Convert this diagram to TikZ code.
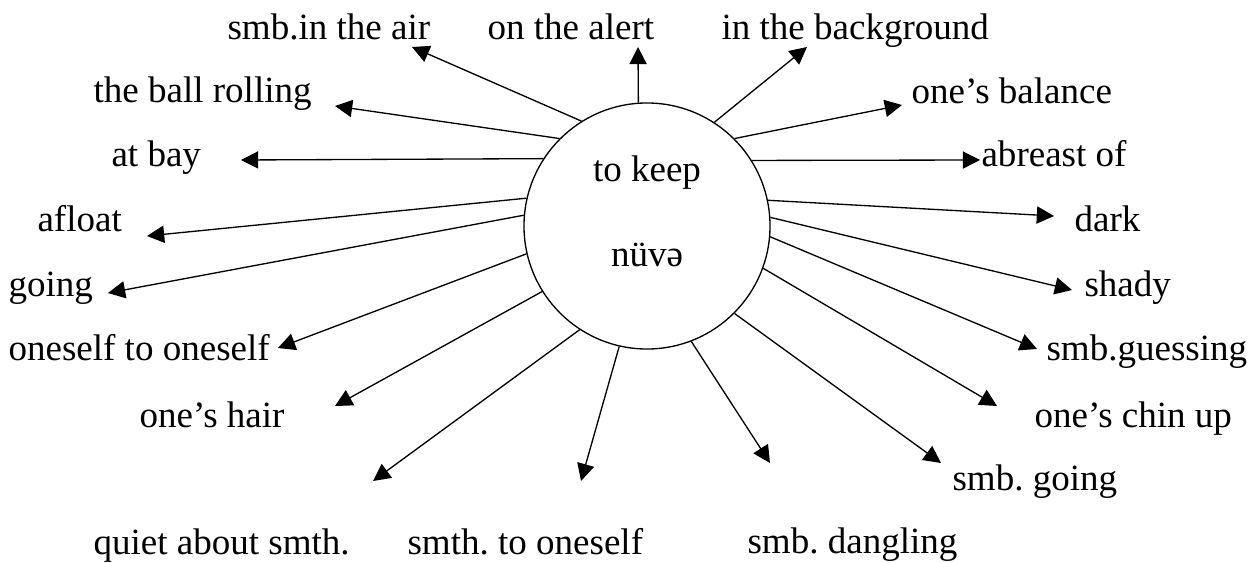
\documentclass[tikz,border=0pt]{standalone}
\usepackage{fontspec}
\setmainfont{Liberation Serif}
\usetikzlibrary{arrows.meta,positioning}
\frenchspacing

\begin{document}
\begin{tikzpicture}[x=0.378pt,y=-0.378pt,
    font=\fontsize{14}{16}\selectfont,
    word/.style={anchor=base west, inner sep=0pt},
    link/.style={line width=0.5pt, -{Triangle[length=6.5pt,width=6.5pt]}}]
    \useasboundingbox (0,0) rectangle (1251,563);

    % centre
    \node (keep) [draw, circle, line width=0.5pt, minimum size=93pt, inner sep=0pt] at (647,226) {};
    \node (keepen) [anchor=base, inner sep=0pt] at (647,182) {to keep};
    \node (keepaz) [anchor=base, inner sep=0pt] at (647,267) {nüvə};

    % phrases
    \node (air) [word] at (227,40) {smb.in the air};
    \node (alert) [word] at (487,40) {on the alert};
    \node (backgr) [word] at (721,40) {in the background};
    \node (ball) [word] at (93,103) {the ball rolling};
    \node (balance) [word] at (911,104) {one’s balance};
    \node (bay) [word] at (111,167) {at bay};
    \node (abreast) [word] at (981,167) {abreast of};
    \node (afloat) [word] at (37,232) {afloat};
    \node (dark) [word] at (1074,232) {dark};
    \node (going) [word] at (8,297) {going};
    \node (shady) [word] at (1084,297) {shady};
    \node (oneself) [word] at (8,361) {oneself to oneself};
    \node (guess) [word] at (1046,361) {smb.guessing};
    \node (hair) [word] at (139,427) {one’s hair};
    \node (chin) [word] at (1034,427) {one’s chin up};
    \node (smbgo) [word] at (952,491) {smb. going};
    \node (quiet) [word] at (93,554) {quiet about smth.};
    \node (smth) [word] at (407,554) {smth. to oneself};
    \node (dangl) [word] at (747,553) {smb. dangling};

    % arrow tips
    \coordinate (tair) at (412,47);
    \coordinate (talert) at (638,47);
    \coordinate (tbackgr) at (807,47);
    \coordinate (tball) at (335,106);
    \coordinate (tbalance) at (902,105);
    \coordinate (tbay) at (241,160);
    \coordinate (tabreast) at (980,160);
    \coordinate (tafloat) at (147,236);
    \coordinate (tdark) at (1054,216);
    \coordinate (tgoing) at (108,293);
    \coordinate (tshady) at (1072,290);
    \coordinate (toneself) at (278,348);
    \coordinate (tguess) at (1037,349);
    \coordinate (tchin) at (997,406);
    \coordinate (thair) at (335,406);
    \coordinate (tsmbgo) at (941,463);
    \coordinate (tquiet) at (373,481);
    \coordinate (tsmth) at (581,481);
    \coordinate (tdangl) at (770,463);

    \draw[link] (keep.122.8) -- (tair);
    \draw[link] (keep.94) -- (talert);
    \draw[link] (keep.57.2) -- (tbackgr);
    \draw[link] (keep.135) -- (tball);
    \draw[link] (keep.45) -- (tbalance);
    \draw[link] (keep.147.8) -- (tbay);
    \draw[link] (keep.32.6) -- (tabreast);
    \draw[link] (keep.167.2) -- (tafloat);
    \draw[link] (keep.12.8) -- (tdark);
    \draw[link] (keep.175.8) -- (tgoing);
    \draw[link] (keep.4.2) -- (tshady);
    \draw[link] (keep.193.3) -- (toneself);
    \draw[link] (keep.-5.1) -- (tguess);
    \draw[link] (keep.-20.9) -- (tchin);
    \draw[link] (keep.212.9) -- (thair);
    \draw[link] (keep.-45) -- (tsmbgo);
    \draw[link] (keep.237.5) -- (tquiet);
    \draw[link] (keep.257.2) -- (tsmth);
    \draw[link] (keep.-69.1) -- (tdangl);
\end{tikzpicture}
\end{document}
